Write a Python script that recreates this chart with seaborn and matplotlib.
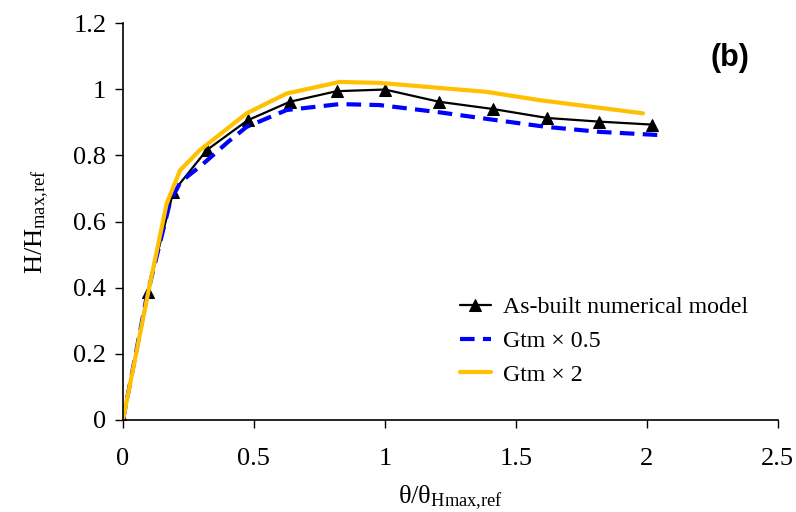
import matplotlib
matplotlib.use("Agg")
import matplotlib.pyplot as plt
import seaborn as sns

# As-built numerical model (triangle markers)
x_built = [0.0, 0.094, 0.192, 0.32, 0.476, 0.637, 0.816, 1.0, 1.207, 1.414, 1.62, 1.818, 2.02]
y_built = [0.0, 0.386, 0.69, 0.816, 0.906, 0.962, 0.994, 0.999, 0.962, 0.94, 0.913, 0.902, 0.893]

# Gtm x 0.5
x_half = [0.0, 0.09, 0.18, 0.22, 0.3, 0.4, 0.472, 0.625, 0.828, 0.98, 1.21, 1.41, 1.617, 1.82, 2.056]
y_half = [0.0, 0.37, 0.66, 0.72, 0.77, 0.84, 0.886, 0.937, 0.955, 0.952, 0.93, 0.908, 0.886, 0.871, 0.861]

# Gtm x 2
x_double = [0.0, 0.1, 0.167, 0.218, 0.294, 0.472, 0.625, 0.828, 0.98, 1.388, 1.59, 1.986]
y_double = [0.0, 0.40, 0.655, 0.755, 0.816, 0.927, 0.987, 1.022, 1.019, 0.992, 0.967, 0.927]

sns.set_style("ticks")
plt.rcParams['font.family'] = ['Liberation Serif', 'DejaVu Serif']
plt.rcParams['mathtext.default'] = 'regular'
plt.rcParams['text.color'] = 'black'
plt.rcParams['axes.labelcolor'] = 'black'

fig = plt.figure(figsize=(7.96, 5.12), dpi=100)
ax = fig.add_axes([0.1545, 0.1797, 0.8225, 0.7753])

sns.lineplot(x=x_built, y=y_built, ax=ax, sort=False, color='black', lw=1.6,
             marker='^', markersize=8, markeredgecolor='black',
             label='As-built numerical model')
sns.lineplot(x=x_half, y=y_half, ax=ax, sort=False, color='#0000FF', lw=3,
             dashes=False, label='Gtm \u00d7 0.5')
ax.lines[-1].set_dashes([3.5, 2.0])
sns.lineplot(x=x_double, y=y_double, ax=ax, sort=False, color='#FFC000', lw=3,
             label='Gtm \u00d7 2')

ax.set_xlim(0, 2.5)
ax.set_ylim(0, 1.2)
ax.set_xticks([0, 0.5, 1, 1.5, 2, 2.5])
ax.set_xticklabels(['0', '0.5', '1', '1.5', '2', '2.5'])
ax.set_yticks([0, 0.2, 0.4, 0.6, 0.8, 1.0, 1.2])
ax.set_yticklabels(['0', '0.2', '0.4', '0.6', '0.8', '1', '1.2'])
ax.tick_params(labelsize=19, length=6, width=1, direction='out', colors='black')
ax.xaxis.set_tick_params(pad=14)
ax.yaxis.set_tick_params(pad=6)
for s in ['left', 'bottom']:
    ax.spines[s].set_linewidth(1.2)
    ax.spines[s].set_color('black')
sns.despine(ax=ax)

ax.set_xlabel('\u03b8/\u03b8$_{Hmax{,}ref}$', fontsize=19, labelpad=10)
ax.set_ylabel('H/H$_{max{,}ref}$', fontsize=19, labelpad=16)

ax.text(0.927, 0.912, '(b)', transform=ax.transAxes, ha='center', va='center',
        fontsize=22, fontweight='bold', family='Liberation Sans', color='black')

ax.legend(loc='upper left', bbox_to_anchor=(0.5, 0.335), frameon=False,
          fontsize=17.2, handlelength=1.3, handletextpad=0.5, labelspacing=0.5,
          borderaxespad=0)

fig.savefig('out.png', dpi=100)
